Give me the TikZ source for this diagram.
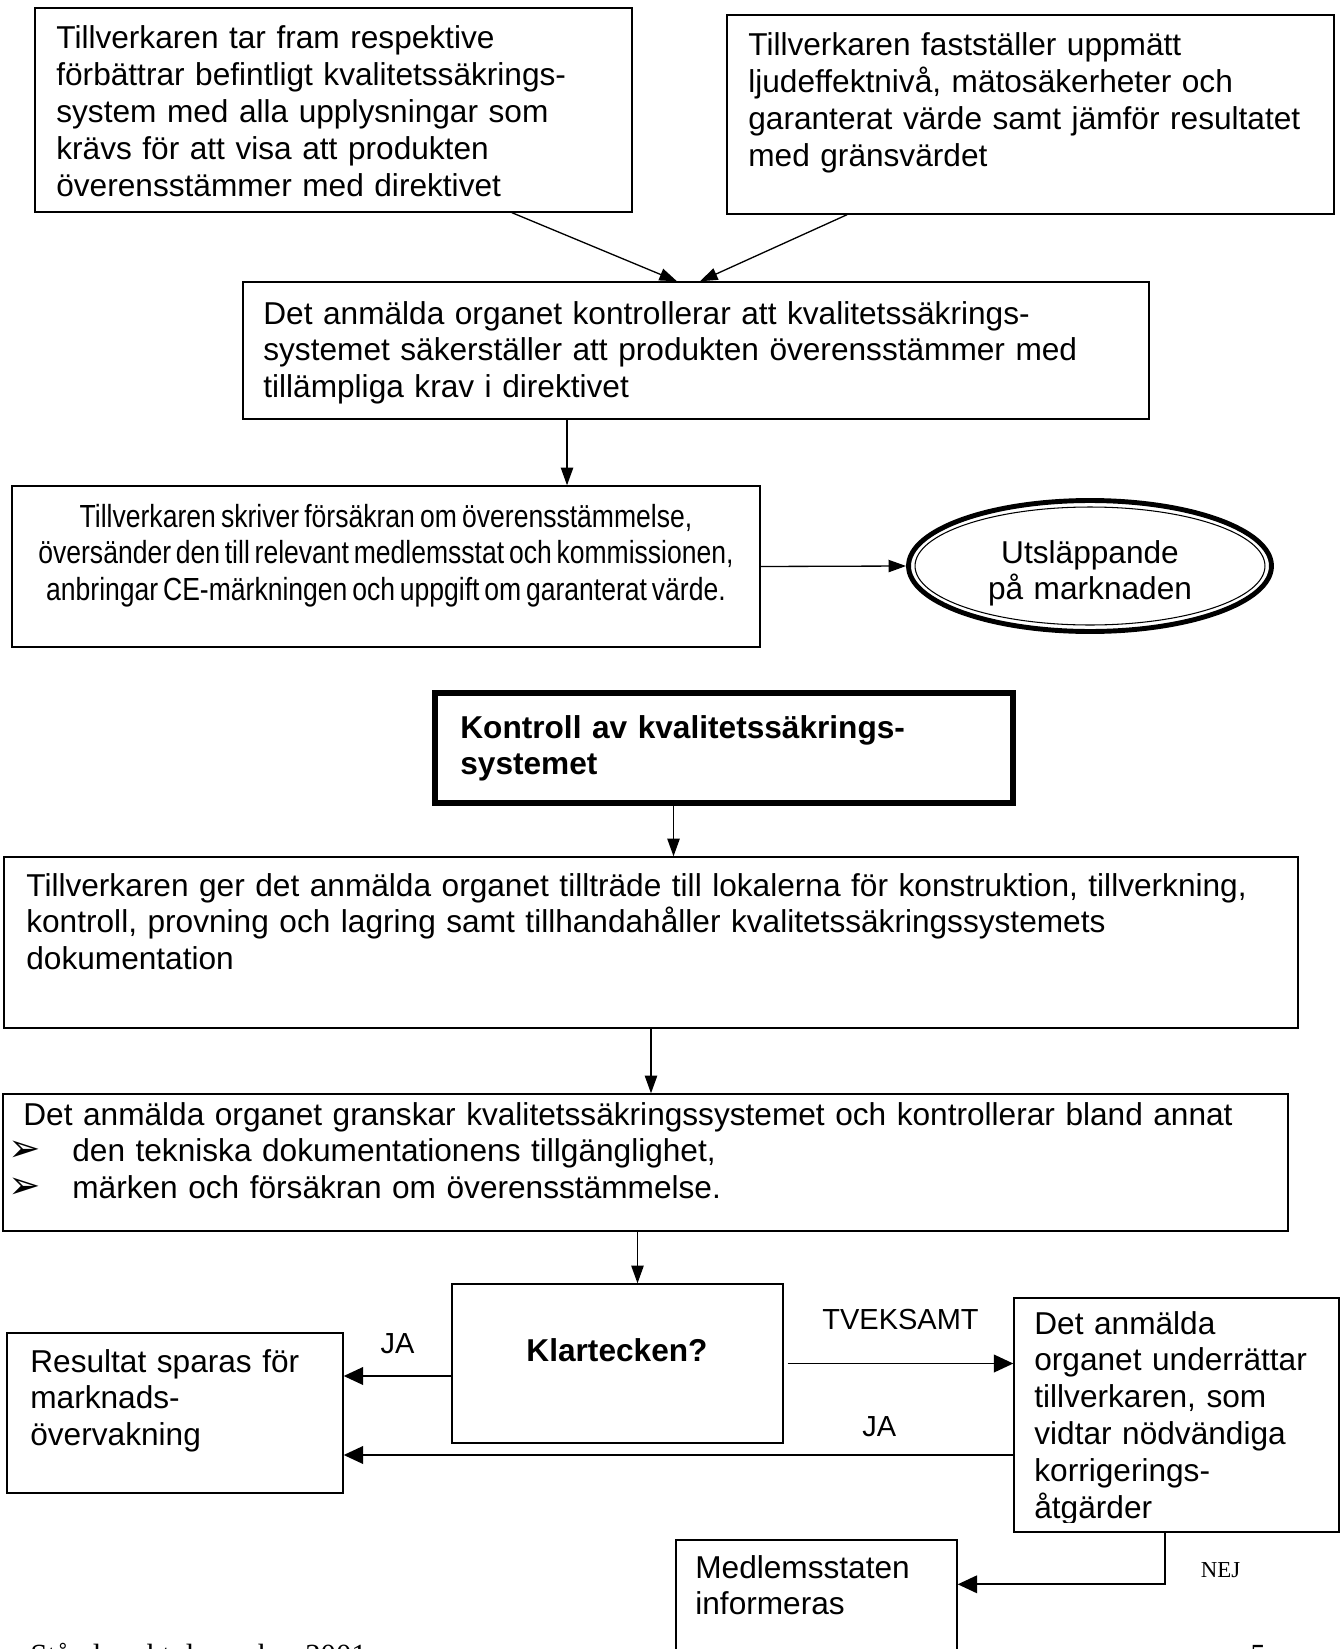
\documentclass[tikz,border=0pt]{standalone}
\usepackage{fontspec}
\setmainfont{Liberation Sans}
\newfontfamily\narrowfont{Liberation Sans}[FakeStretch=0.83]
\newfontfamily\timesfont{Liberation Serif}
\newfontfamily\dingfont{DejaVu Sans}
\usetikzlibrary{positioning,fit,arrows.meta,shapes.geometric}

\newcommand\bul{\makebox[1.28cm][l]{\dingfont\fontsize{22}{21}\selectfont ➢}}
\newcommand\tightsp{\spaceskip=0.14em plus 0.02em\relax}

\tikzset{
	box/.style={draw, line width=0.8pt, inner sep=0pt, rectangle},
	heavybox/.style={draw, line width=3.8pt, inner sep=0pt, rectangle},
	oval/.style={draw, ellipse, line width=2.8pt, inner sep=0pt, minimum width=7.26cm, minimum height=2.62cm},
	txt/.style={inner sep=0pt, anchor=base west, align=left, text width=#1, font=\fontsize{18}{21}\selectfont},
	txt/.default=12cm,
	lbl/.style={inner sep=0pt, font=\fontsize{16.5}{20}\selectfont},
	arr/.style={-{Triangle[length=10pt,width=7pt]}, line width=0.75pt},
	arrb/.style={-{Triangle[length=11pt,width=10pt]}, line width=1pt}
}

\begin{document}
\begin{tikzpicture}[x=0.02cm,y=-0.02cm]
			\useasboundingbox (0,0) rectangle (1343,1649);
			\clip (0,0) rectangle (1343,1649);
			% boxes
			\node[box, fit={(35,8) (632,212)}] (prep) {};
			\node[box, fit={(727,15) (1334,214)}] (meas) {};
			\node[box, fit={(243,282) (1149,419)}] (check) {};
			\node[box, fit={(12,486) (760,647)}] (decl) {};
			\node[oval] (market) at (1090,566) {};
			\draw[line width=0.6pt] (market.center) ellipse [x radius=3.5cm, y radius=1.18cm];
			\node[heavybox, fit={(435,693) (1013,803)}] (qa) {};
			\node[box, fit={(4,857) (1298,1028)}] (access) {};
			\node[box, fit={(3,1094) (1288,1231)}] (audit) {};
			\node[box, fit={(452,1284) (783,1443)}] (ok) {};
			\node[box, fit={(7,1333) (343,1493)}] (saved) {};
			\node[box, fit={(1014,1298) (1339,1532)}] (corr) {};
			\node[box, fit={(676,1540) (957,1700)}] (state) {};
			
			% texts
			\node[txt] (prept) at (56,49) {Tillverkaren tar fram respektive\\förbättrar befintligt kvalitetssäkrings-\\system med alla upplysningar som\\krävs för att visa att produkten\\överensstämmer med direktivet};
			\node[txt] (meast) at (748,56) {Tillverkaren fastställer uppmätt\\ljudeffektnivå, mätosäkerheter och\\garanterat värde samt jämför resultatet\\med gränsvärdet};
			\node[txt=18cm] (checkt) at (263,324) {Det anmälda organet kontrollerar att kvalitetssäkrings-\\systemet säkerställer att produkten överensstämmer med\\tillämpliga krav i direktivet};
			\node[txt=15cm, align=center, anchor=base, font=\narrowfont\fontsize{18.2}{21}\selectfont] (declt) at (386,527) {\tightsp Tillverkaren skriver försäkran om överensstämmelse,\\översänder den till relevant medlemsstat och kommissionen,\\anbringar CE-märkningen och uppgift om garanterat värde.};
			\node[txt=6cm, align=center, anchor=base] (markett) at (1090,563) {Utsläppande\\på marknaden};
			\node[txt=11cm, font=\bfseries\fontsize{18}{21}\selectfont] (qat) at (460,738) {Kontroll av kvalitetssäkrings-\\systemet};
			\node[txt=25.5cm] (accesst) at (26,896) {Tillverkaren ger det anmälda organet tillträde till lokalerna för konstruktion, tillverkning,\\kontroll, provning och lagring samt tillhandahåller kvalitetssäkringssystemets\\dokumentation};
			\node[txt=25.5cm] (auditt) at (8,1125) {\hspace*{0.3cm}Det anmälda organet granskar kvalitetssäkringssystemet och kontrollerar bland annat\\\bul den tekniska dokumentationens tillgänglighet,\\\bul märken och försäkran om överensstämmelse.};
			\node[inner sep=0pt, font=\bfseries\fontsize{18}{21}\selectfont] (okt) at (617,1350) {Klartecken?};
			\node[txt=6cm] (savedt) at (30,1372) {Resultat sparas för\\marknads-\\övervakning};
			\begin{scope}
				\clip (1014,1298) rectangle (1339,1522);
				\node[txt=6cm] (corrt) at (1034,1334) {Det anmälda\\organet underrättar\\tillverkaren, som\\vidtar nödvändiga\\korrigerings-\\åtgärder};
			\end{scope}
			\node[txt=5cm] (statet) at (695,1578) {Medlemsstaten\\informeras};
			\node[inner sep=0pt, anchor=base west, font=\timesfont\fontsize{17.5}{21}\selectfont] (foot) at (30,1665) {Ståndpunkt december 2001};
			\node[inner sep=0pt, anchor=base west, font=\timesfont\fontsize{17.5}{21}\selectfont] (pageno) at (1250,1665) {5};
			
			% connectors
			\draw[arr] ([xshift=3.57cm]prep.south) -- ([xshift=-0.38cm]check.north);
			\draw[arr] ([xshift=-3.67cm]meas.south) -- ([xshift=0.08cm]check.north);
			\coordinate (c1) at ([xshift=-2.58cm]check.south);
			\draw[arr] (c1) -- (c1 |- decl.north);
			\draw[arr] (decl.east) -- (market.west);
			\coordinate (c2) at ([xshift=-1.01cm]qa.south);
			\draw[arr] (c2) -- (c2 |- access.north);
			\draw[arr] (access.south) -- (access.south |- audit.north);
			\coordinate (c3) at ([xshift=-0.16cm]audit.south);
			\draw[arr] (c3) -- (c3 |- ok.north);
			\coordinate (c4) at ([yshift=-0.25cm]ok.west);
			\draw[arrb] (c4) -- (c4 -| saved.east) node[lbl, midway, above=0.42cm] (ja1) {JA};
			\draw[arrb] ([xshift=0.08cm]ok.east) -- (ok.east -| corr.west) node[lbl, midway, above=0.66cm] (doubt) {TVEKSAMT};
			\coordinate (c5) at ([yshift=-0.8cm]corr.west);
			\draw[arrb] (c5) -- (c5 -| saved.east) node[lbl, pos=0.2, above=0.34cm] (ja2) {JA};
			\coordinate (c6) at ([xshift=-0.23cm]corr.south);
			\coordinate (c7) at ([yshift=-0.9cm]state.north east);
			\draw[arrb] (c6) |- (c7) node[pos=0.36, right=0.7cm, inner sep=0pt, font=\timesfont\fontsize{13}{16}\selectfont] (nej) {NEJ};
\end{tikzpicture}
\end{document}
